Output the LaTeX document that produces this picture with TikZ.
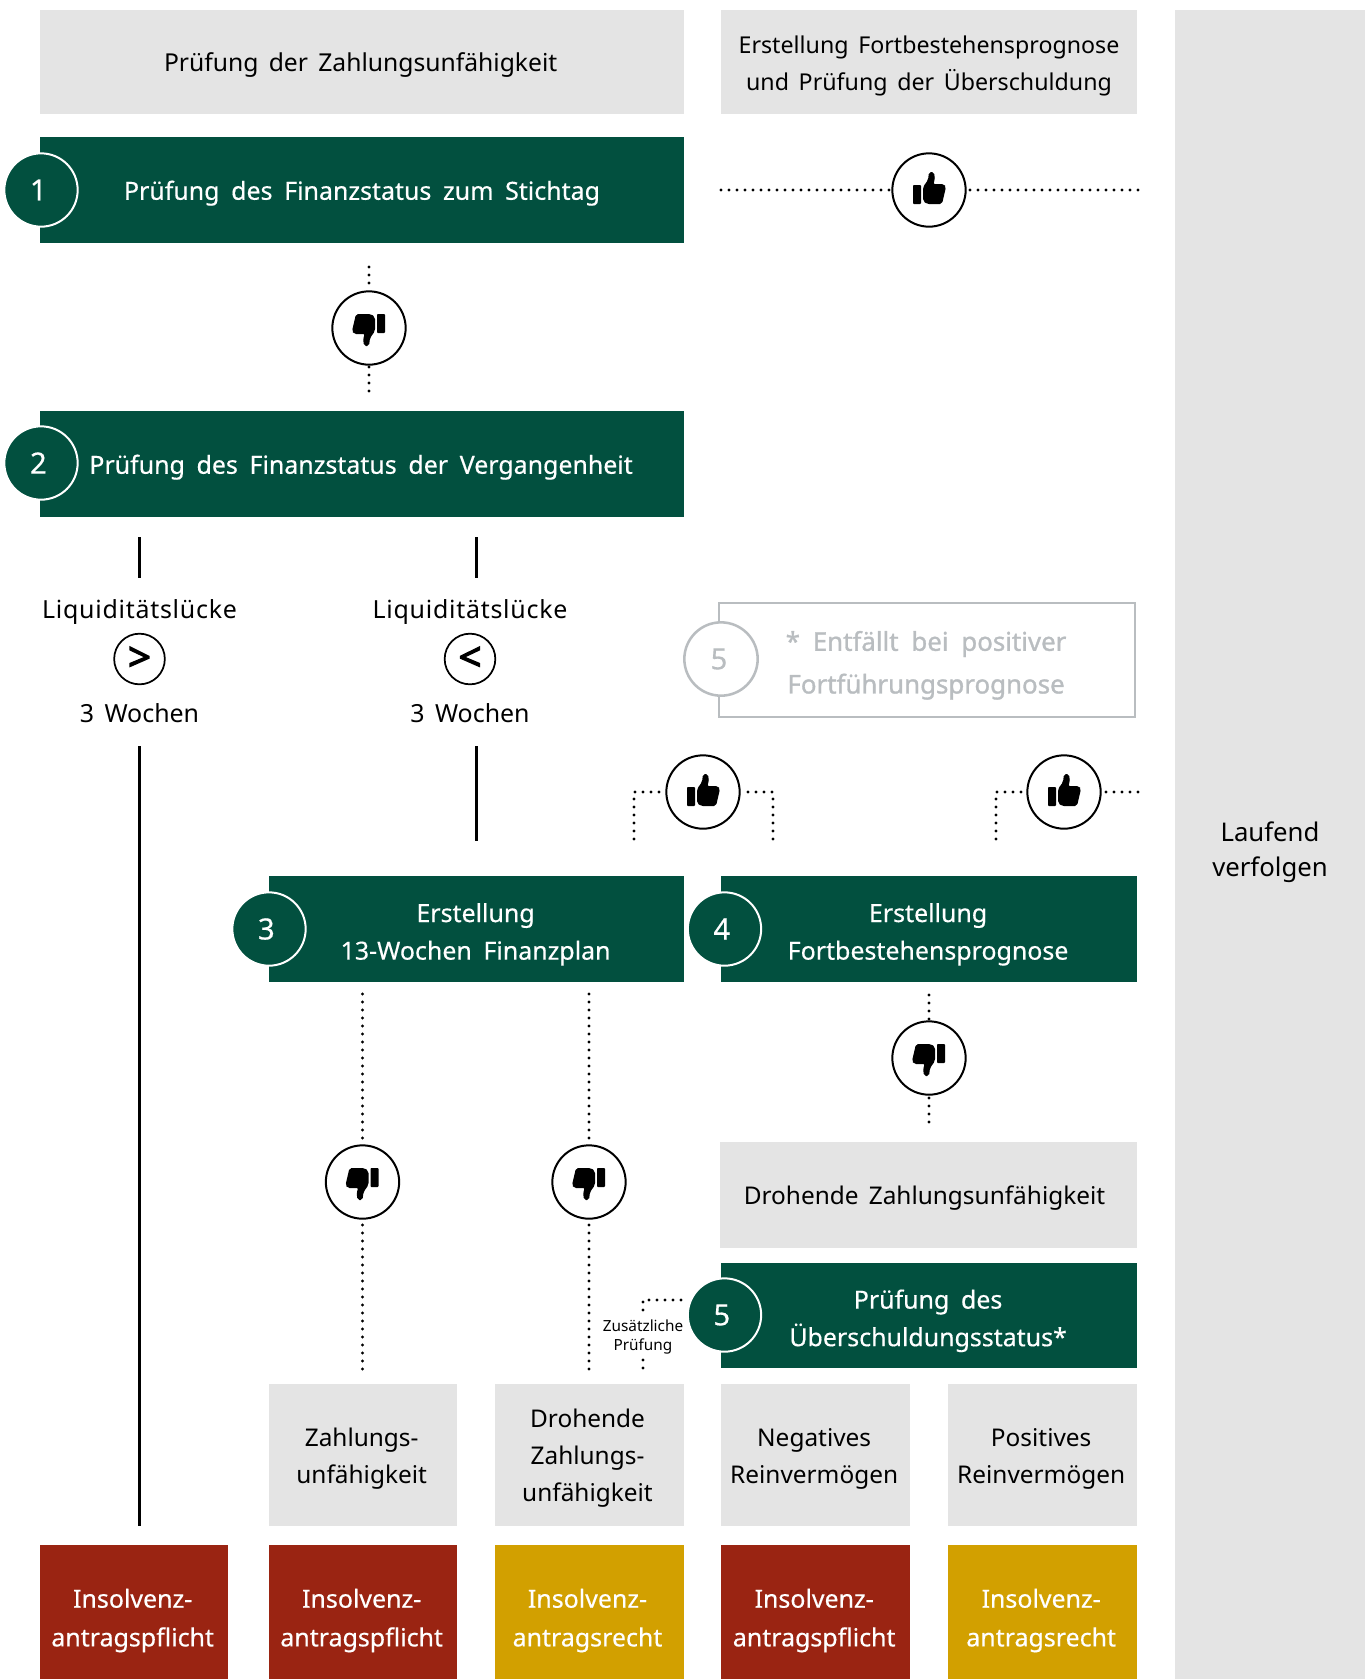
\documentclass[tikz,border=0pt]{standalone}
\usepackage{fontspec}
\setmainfont[WordSpace=1.6]{Noto Sans}
\newfontfamily\medfont[WordSpace=1.8,FakeBold=0.4]{Noto Sans}
\newfontfamily\notefont[WordSpace=1.9,FakeBold=1.2]{Noto Sans}
\newfontfamily\lqfont[LetterSpace=3]{Noto Sans}
\newfontfamily\cmpfont[FakeBold=3]{Noto Sans}
\definecolor{barg}{HTML}{02503F}
\definecolor{panel}{HTML}{E4E4E4}
\definecolor{redb}{HTML}{9A2412}
\definecolor{yelb}{HTML}{D2A000}
\definecolor{mute}{HTML}{B9BDC0}
\tikzset{
  x=0.75pt,y=-0.75pt,
  boxbase/.style={rectangle,inner sep=0pt,align=center,draw=none},
  greybox/.style={boxbase,fill=panel,text=black,font=\fontsize{18.3}{27.8}\selectfont},
  greenbar/.style={boxbase,fill=barg,text=white,font=\medfont\fontsize{18.7}{28.2}\selectfont},
  redbox/.style={boxbase,fill=redb,text=white,font=\medfont\fontsize{18.7}{29}\selectfont},
  yelbox/.style={boxbase,fill=yelb,text=white,font=\medfont\fontsize{18.7}{29}\selectfont},
  numdot/.style={circle,fill=barg,draw=white,line width=1.5pt,text=white,minimum size=55pt,inner sep=0pt,font=\medfont\fontsize{22}{22}\selectfont},
  voteloop/.style={circle,fill=white,draw=black,line width=1.5pt,minimum size=55pt,inner sep=0pt},
  cmp/.style={circle,fill=white,draw=black,line width=1.3pt,minimum size=38pt,inner sep=0pt,font=\cmpfont\fontsize{30}{30}\selectfont},
  plain/.style={inner sep=0pt,align=center,font=\fontsize{18.7}{27}\selectfont},
  dots/.style={line width=2.3pt,line cap=round,dash pattern=on 0pt off 6pt},
  solidline/.style={line width=1.9pt},
  pics/thumb/.style={code={
    \fill[black,rounded corners=0.6pt] (-16,-5) rectangle (-8,14);
    \fill[black,rounded corners=1.5pt] (-6,-3) -- (-1,-10) -- (0,-18) -- (5,-18) -- (6,-10) -- (4,-6) -- (15,-6) -- (17,-3) -- (13,14) -- (-2,14) -- (-6,11) -- cycle;
  }}
}
% \boxn[text offset]{name}{style}{x1}{y1}{x2}{y2}{text}
\newcommand{\boxn}[8][yshift=-2.4pt]{%
  \pgfmathsetmacro{\bw}{(#6-#4)*0.75}\pgfmathsetmacro{\bh}{(#7-#5)*0.75}%
  \pgfmathsetmacro{\bx}{(#4+#6)/2}\pgfmathsetmacro{\by}{(#5+#7)/2}%
  \node[#3,minimum width=\bw pt,minimum height=\bh pt] (#2) at (\bx,\by) {};
  \node[#3,fill=none,draw=none,#1] (#2t) at (\bx,\by) {#8};}
\newcommand{\numtxt}[1]{\hspace*{-4pt}#1}
\begin{document}
\begin{tikzpicture}
\useasboundingbox (0,0) rectangle (1370,1679);
% panels
\boxn[yshift=-2.4pt,xshift=-1pt]{h1}{greybox,font=\fontsize{18.5}{27.4}\selectfont}{40}{10}{684}{114}{Prüfung der Zahlungsunfähigkeit}
\boxn[yshift=-2.8pt]{h2}{greybox,font=\fontsize{17.4}{28}\selectfont}{721}{10}{1137}{114}{Erstellung Fortbestehensprognose\\und Prüfung der Überschuldung}
\boxn[yshift=-6pt]{lauf}{greybox,font=\fontsize{19.3}{26.5}\selectfont}{1175}{10}{1365}{1679}{Laufend\\verfolgen}
% green bars
\boxn{b1}{greenbar}{40}{137}{684}{243}{Prüfung des Finanzstatus zum Stichtag}
\boxn[yshift=-2.4pt,xshift=-0.7pt]{b2}{greenbar}{40}{411}{684}{517}{Prüfung des Finanzstatus der Vergangenheit}
\boxn[yshift=-4pt,xshift=-0.7pt]{b3}{greenbar}{269}{876}{684}{982}{Erstellung\\13-Wochen Finanzplan}
\boxn[yshift=-4pt,xshift=-0.7pt]{b4}{greenbar}{721}{876}{1137}{982}{Erstellung\\Fortbestehensprognose}
\boxn[yshift=-2.4pt,xshift=-3pt]{dz}{greybox}{720}{1142}{1137}{1248}{Drohende Zahlungsunfähigkeit}
\boxn[yshift=-4pt,xshift=-0.7pt]{b5}{greenbar}{721}{1263}{1137}{1368}{Prüfung des\\Überschuldungsstatus*}
% number dots
\node[numdot] (n1) at (41,190) {\numtxt{1}};
\node[numdot] (n2) at (41,463) {\numtxt{2}};
\node[numdot] (n3) at (269,929) {\numtxt{3}};
\node[numdot] (n4) at (724.5,929) {\numtxt{4}};
\node[numdot] (n5) at (724.5,1315) {\numtxt{5}};
% note box
\boxn[yshift=-4pt,xshift=-0.7pt]{note}{boxbase,draw=mute,line width=1.9pt,text=mute,font=\notefont\fontsize{19.4}{32}\selectfont}{719}{603}{1135}{717}{* Entfällt bei positiver\\Fortführungsprognose}
\node[circle,fill=white,draw=mute,line width=1.9pt,text=mute,minimum size=55pt,inner sep=0pt,font=\medfont\fontsize{22}{22}\selectfont] (n5g) at (721,659) {\hspace*{-3pt}\raisebox{-2.4pt}{5}};
% grey outcome boxes
\boxn[yshift=-2.6pt,xshift=-1pt]{g1}{greybox}{269}{1384}{457}{1526}{Zahlungs-\\unfähigkeit}
\boxn[yshift=-2.6pt,xshift=-1.5pt]{g2}{greybox}{495}{1384}{684}{1526}{Drohende\\Zahlungs-\\unfähigkeit}
\boxn[yshift=-2.6pt,xshift=-1pt]{g3}{greybox}{721}{1384}{910}{1526}{Negatives\\Reinvermögen}
\boxn[yshift=-2.6pt,xshift=-1pt]{g4}{greybox}{948}{1384}{1137}{1526}{Positives\\Reinvermögen}
% result boxes
\boxn[yshift=-6.4pt,xshift=-1pt]{r0}{redbox}{40}{1545}{228}{1679}{Insolvenz-\\antragspflicht}
\boxn[yshift=-6.4pt,xshift=-1pt]{r1}{redbox}{269}{1545}{457}{1679}{Insolvenz-\\antragspflicht}
\boxn[yshift=-6.4pt,xshift=-1.5pt]{r2}{yelbox}{495}{1545}{684}{1679}{Insolvenz-\\antragsrecht}
\boxn[yshift=-6.4pt,xshift=-1pt]{r3}{redbox}{721}{1545}{910}{1679}{Insolvenz-\\antragspflicht}
\boxn[yshift=-6.4pt,xshift=-1pt]{r4}{yelbox}{948}{1545}{1137}{1679}{Insolvenz-\\antragsrecht}
% vote circles
\node[voteloop] (tu1) at (929,190) {};
\node[voteloop] (td1) at (369,328) {};
\node[voteloop] (tu2) at (703,792) {};
\node[voteloop] (tu3) at (1064,792) {};
\node[voteloop] (td2) at (929,1058) {};
\node[voteloop] (td3) at (362.5,1182) {};
\node[voteloop] (td4) at (589,1182) {};
\foreach \p in {tu1,tu2,tu3} \pic at (\p) {thumb};
\foreach \p in {td1,td2,td3,td4} \pic[rotate=180] at (\p) {thumb};
% liquidity labels
\node[plain,font=\lqfont\fontsize{18.7}{27}\selectfont] (l1) at (139.5,612) {Liquiditätslücke};
\node[cmp] (c1) at (139.5,659) {\raisebox{-4pt}{>}};
\node[plain] (w1) at (139.5,713) {3 Wochen};
\node[plain,font=\lqfont\fontsize{18.7}{27}\selectfont] (l2) at (470,612) {Liquiditätslücke};
\node[cmp] (c2) at (470,659) {\raisebox{-4pt}{<}};
\node[plain] (w2) at (470,713) {3 Wochen};
% free ends
\coordinate (a1) at (721,190); \coordinate (a2) at (1138,190);
\coordinate (a3) at (369,267); \coordinate (a4) at (369,391);
\coordinate (s1a) at (139.5,537); \coordinate (s1b) at (139.5,578);
\coordinate (s2a) at (476.5,537); \coordinate (s2b) at (476.5,578);
\coordinate (s3a) at (139.5,746); \coordinate (s3b) at (139.5,1526);
\coordinate (s4a) at (476.5,746); \coordinate (s4b) at (476.5,841);
\coordinate (e1) at (634,839); \coordinate (e1c) at (634,792);
\coordinate (e2) at (773,839); \coordinate (e2c) at (773,792);
\coordinate (e3) at (996,839); \coordinate (e3c) at (996,792);
\coordinate (e4) at (1138,792);
\coordinate (v1) at (362.5,994); \coordinate (v2) at (362.5,1369);
\coordinate (v3) at (589,994); \coordinate (v4) at (589,1369);
\coordinate (v5) at (929,995); \coordinate (v6) at (929,1122);
% solid connectors
\draw[solidline] (s1a) -- (s1b);
\draw[solidline] (s2a) -- (s2b);
\draw[solidline] (s3a) -- (s3b);
\draw[solidline] (s4a) -- (s4b);
% dotted connectors
\draw[dots] (a1) -- (tu1.west);
\draw[dots] (a2) -- (tu1.east);
\draw[dots] (a3) -- (td1.north);
\draw[dots] (a4) -- (td1.south);
\draw[dots] (e1) -- (e1c) -- (tu2.west);
\draw[dots] (e2) -- (e2c) -- (tu2.east);
\draw[dots] (e3) -- (e3c) -- (tu3.west);
\draw[dots] (e4) -- (tu3.east);
\draw[dots] (v1) -- (td3.north);
\draw[dots] (v2) -- (td3.south);
\draw[dots] (v3) -- (td4.north);
\draw[dots] (v4) -- (td4.south);
\draw[dots] (v5) -- (td2.north);
\draw[dots] (v6) -- (td2.south);
% additional check
\node[inner sep=0pt,align=center,font=\fontsize{11.5}{14.5}\selectfont] (zp) at (643,1337) {Zusätzliche\\Prüfung};
\coordinate (zt) at (643,1310);
\coordinate (zc) at (643,1300);
\coordinate (zr) at (683,1300);
\draw[dots] (zt) -- (zc) -- (zr);
\coordinate (zb) at (643,1368);
\coordinate (zb2) at (643,1359);
\draw[dots] (zb) -- (zb2);
\end{tikzpicture}
\end{document}
